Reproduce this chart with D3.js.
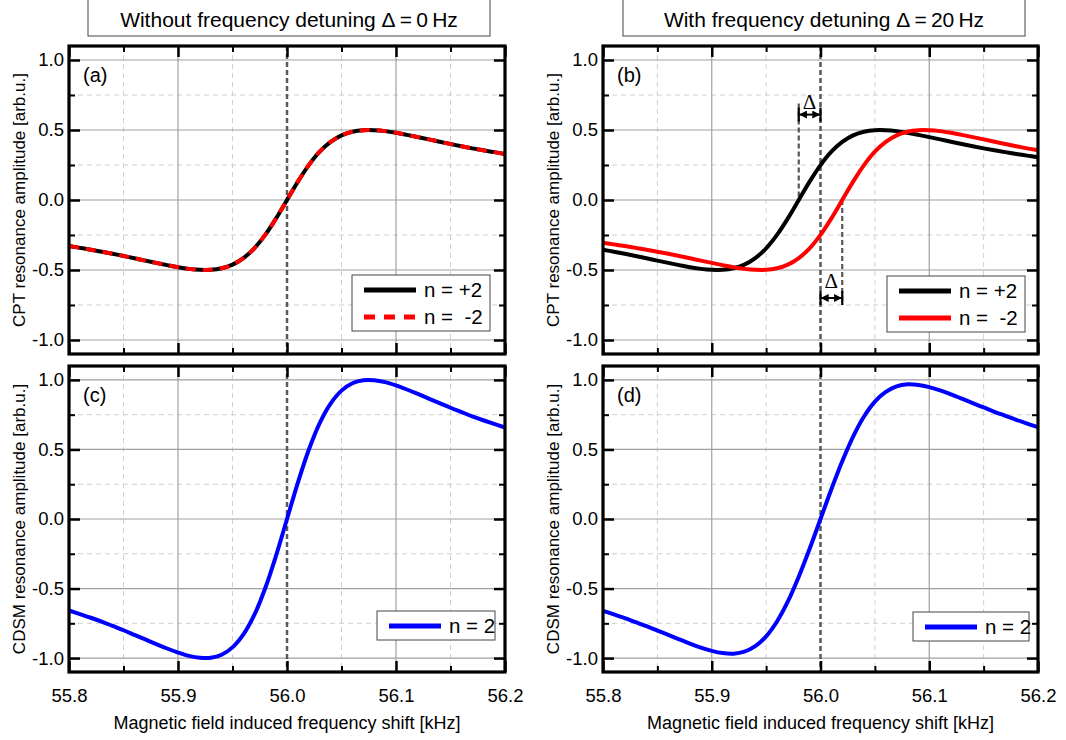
<!DOCTYPE html>
<html>
<head>
<meta charset="utf-8">
<script src="https://cdn.jsdelivr.net/npm/d3@7"></script>
<style>
  body { margin: 0; background: #fff; }
  text { font-family: "Liberation Sans", Arial, sans-serif; fill: #000; }
</style>
</head>
<body>
<script>
// frequency axis [kHz], shared by all panels
var freq = [55.80, 55.81, 55.82, 55.83, 55.84, 55.85, 55.86, 55.87, 55.88, 55.89,
            55.90, 55.91, 55.92, 55.93, 55.94, 55.95, 55.96, 55.97, 55.98, 55.99,
            56.00, 56.01, 56.02, 56.03, 56.04, 56.05, 56.06, 56.07, 56.08, 56.09,
            56.10, 56.11, 56.12, 56.13, 56.14, 56.15, 56.16, 56.17, 56.18, 56.19, 56.20]

// (a) n = +2 and n = -2 overlap
var cptNoDetune = [-0.329, -0.342, -0.355, -0.369, -0.384, -0.400, -0.416, -0.433, -0.449, -0.465,
                   -0.480, -0.492, -0.499, -0.499, -0.488, -0.462, -0.415, -0.345, -0.249, -0.131,
                   0.000, 0.131, 0.249, 0.345, 0.415, 0.462, 0.488, 0.499, 0.499, 0.492,
                   0.480, 0.465, 0.449, 0.433, 0.416, 0.400, 0.384, 0.369, 0.355, 0.342, 0.329]

// (b) n = +2
var cptPlus = [-0.355, -0.369, -0.384, -0.400, -0.416, -0.433, -0.449, -0.465, -0.480, -0.492,
               -0.499, -0.499, -0.488, -0.462, -0.415, -0.345, -0.249, -0.131, 0.000, 0.131,
               0.249, 0.345, 0.415, 0.462, 0.488, 0.499, 0.499, 0.492, 0.480, 0.465,
               0.449, 0.433, 0.416, 0.400, 0.384, 0.369, 0.355, 0.342, 0.329, 0.317, 0.305]

// (b) n = -2
var cptMinus = [-0.305, -0.317, -0.329, -0.342, -0.355, -0.369, -0.384, -0.400, -0.416, -0.433,
                -0.449, -0.465, -0.480, -0.492, -0.499, -0.499, -0.488, -0.462, -0.415, -0.345,
                -0.249, -0.131, 0.000, 0.131, 0.249, 0.345, 0.415, 0.462, 0.488, 0.499,
                0.499, 0.492, 0.480, 0.465, 0.449, 0.433, 0.416, 0.400, 0.384, 0.369, 0.355]

// (c) CDSM, no detuning
var cdsmNoDetune = [-0.658, -0.684, -0.710, -0.738, -0.769, -0.800, -0.833, -0.866, -0.899, -0.931,
                    -0.960, -0.984, -0.998, -0.998, -0.976, -0.923, -0.830, -0.690, -0.498, -0.262,
                    0.000, 0.262, 0.498, 0.690, 0.830, 0.923, 0.976, 0.998, 0.998, 0.984,
                    0.960, 0.931, 0.899, 0.866, 0.833, 0.800, 0.769, 0.738, 0.710, 0.684, 0.658]

// (d) CDSM, 20 Hz detuning
var cdsmDetune = [-0.660, -0.686, -0.713, -0.742, -0.771, -0.802, -0.833, -0.865, -0.896, -0.925,
                  -0.948, -0.964, -0.968, -0.954, -0.914, -0.844, -0.737, -0.593, -0.415, -0.214,
                  0.000, 0.214, 0.415, 0.593, 0.737, 0.844, 0.914, 0.954, 0.968, 0.964,
                  0.948, 0.925, 0.896, 0.865, 0.833, 0.802, 0.771, 0.742, 0.713, 0.686, 0.660]

var xMajor = [55.8, 55.9, 56.0, 56.1, 56.2]
var xMinor = [55.85, 55.95, 56.05, 56.15]
var yMajor = [-1.0, -0.5, 0.0, 0.5, 1.0]
var yMinor = [-0.75, -0.25, 0.25, 0.75]

var detuning = 0.02   // 20 Hz in kHz

var width = 1066
var height = 740

var svg = d3.select("body")
            .append("svg")
            .attr("width", width)
            .attr("height", height)

// arrow heads for the detuning annotation
var defs = svg.append("defs")
defs.append("marker")
    .attr("id", "arr")
    .attr("viewBox", "0 0 10 10")
    .attr("refX", 9)
    .attr("refY", 5)
    .attr("markerWidth", 8)
    .attr("markerHeight", 8)
    .attr("markerUnits", "userSpaceOnUse")
    .attr("orient", "auto-start-reverse")
    .append("path")
    .attr("d", "M0,0 L10,5 L0,10 z")
    .attr("fill", "#000")

const drawPanel = function(p){
  var x = d3.scaleLinear().domain([55.8, 56.2]).range([p.x0, p.x1])
  var y = d3.scaleLinear().domain([-1.1, 1.1]).range([p.y1, p.y0])
  var w = p.x1 - p.x0
  var h = p.y1 - p.y0
  var g = svg.append("g")

  // minor grid (dashed)
  g.selectAll(".vminor").data(xMinor).enter().append("line")
   .attr("x1", d => x(d)).attr("x2", d => x(d))
   .attr("y1", p.y0).attr("y2", p.y1)
   .attr("stroke", "#cfcfcf").attr("stroke-width", 1).attr("stroke-dasharray", "5,4")
  g.selectAll(".hminor").data(yMinor).enter().append("line")
   .attr("x1", p.x0).attr("x2", p.x1)
   .attr("y1", d => y(d)).attr("y2", d => y(d))
   .attr("stroke", "#cfcfcf").attr("stroke-width", 1).attr("stroke-dasharray", "5,4")

  // major grid (solid)
  g.selectAll(".vmajor").data([55.9, 56.1]).enter().append("line")
   .attr("x1", d => x(d)).attr("x2", d => x(d))
   .attr("y1", p.y0).attr("y2", p.y1)
   .attr("stroke", "#a0a0a0").attr("stroke-width", 1.2)
  g.selectAll(".hmajor").data(yMajor).enter().append("line")
   .attr("x1", p.x0).attr("x2", p.x1)
   .attr("y1", d => y(d)).attr("y2", d => y(d))
   .attr("stroke", "#a0a0a0").attr("stroke-width", 1.2)

  // resonance centre
  g.append("line")
   .attr("x1", x(56.0)).attr("x2", x(56.0))
   .attr("y1", p.y0).attr("y2", p.y1)
   .attr("stroke", "#5a5a5a").attr("stroke-width", 2.5).attr("stroke-dasharray", "5,3")

  if (p.annotate) drawDelta(g, x, y)

  var line = d3.line()
               .x((d, i) => x(freq[i]))
               .y(d => y(d))
               .curve(d3.curveCatmullRom)

  for (let s of p.series){
    g.append("path")
     .attr("d", line(s.values))
     .attr("fill", "none")
     .attr("stroke", s.colour)
     .attr("stroke-width", 4)
     .attr("stroke-dasharray", s.dash || null)
  }

  // frame
  g.append("rect")
   .attr("x", p.x0).attr("y", p.y0)
   .attr("width", w).attr("height", h)
   .attr("fill", "none").attr("stroke", "#000").attr("stroke-width", 3.2)

  // inward ticks on all four sides
  var tickStyle = function(sel, sw){
    sel.select(".domain").remove()
    sel.selectAll(".tick line").attr("stroke", "#000").attr("stroke-width", sw)
    sel.selectAll("text").style("font-size", "18.5px").attr("fill", "#000")
  }
  g.append("g").attr("transform", "translate(0," + p.y1 + ")")
   .call(d3.axisBottom(x).tickValues(xMajor).tickSize(-11).tickPadding(17)
           .tickFormat(p.xLabels ? (d => d.toFixed(1)) : ""))
   .call(tickStyle, 2.5)
  g.append("g").attr("transform", "translate(0," + p.y1 + ")")
   .call(d3.axisBottom(x).tickValues(xMinor).tickSize(-6).tickFormat(""))
   .call(tickStyle, 2)
  g.append("g").attr("transform", "translate(0," + p.y0 + ")")
   .call(d3.axisTop(x).tickValues(xMajor).tickSize(-11).tickFormat(""))
   .call(tickStyle, 2.5)
  g.append("g").attr("transform", "translate(0," + p.y0 + ")")
   .call(d3.axisTop(x).tickValues(xMinor).tickSize(-6).tickFormat(""))
   .call(tickStyle, 2)
  g.append("g").attr("transform", "translate(" + p.x0 + ",0)")
   .call(d3.axisLeft(y).tickValues(yMajor).tickSize(-11).tickPadding(5)
           .tickFormat(d => d.toFixed(1)))
   .call(tickStyle, 2.5)
  g.append("g").attr("transform", "translate(" + p.x0 + ",0)")
   .call(d3.axisLeft(y).tickValues(yMinor).tickSize(-6).tickFormat(""))
   .call(tickStyle, 2)
  g.append("g").attr("transform", "translate(" + p.x1 + ",0)")
   .call(d3.axisRight(y).tickValues(yMajor).tickSize(-11).tickFormat(""))
   .call(tickStyle, 2.5)
  g.append("g").attr("transform", "translate(" + p.x1 + ",0)")
   .call(d3.axisRight(y).tickValues(yMinor).tickSize(-6).tickFormat(""))
   .call(tickStyle, 2)

  // panel letter
  g.append("text")
   .attr("x", p.x0 + 14).attr("y", p.y0 + 36)
   .style("font-size", "20px")
   .text(p.letter)

  // y label
  g.append("text")
   .attr("transform", "translate(" + (p.x0 - 44) + "," + (p.y0 + h / 2) + ") rotate(-90)")
   .style("text-anchor", "middle")
   .style("font-size", "17px")
   .text(p.yLabel)

  if (p.xLabels){
    g.append("text")
     .attr("x", p.x0 + w / 2).attr("y", p.y1 + 57)
     .style("text-anchor", "middle")
     .style("font-size", "18px")
     .text("Magnetic field induced frequency shift [kHz]")
  }

  drawLegend(g, p)
}

const drawLegend = function(g, p){
  var lg = p.legend
  var rowH = 27
  var boxH = p.series.length * rowH + 2
  var box = g.append("g").attr("transform", "translate(" + lg.x + "," + lg.y + ")")
  box.append("rect")
     .attr("width", lg.w).attr("height", boxH)
     .attr("fill", "#fff").attr("stroke", "#444").attr("stroke-width", 1)
  p.series.forEach(function(s, i){
    var yy = 15 + i * rowH
    box.append("line")
       .attr("x1", 12).attr("x2", 64).attr("y1", yy).attr("y2", yy)
       .attr("stroke", s.colour).attr("stroke-width", 5)
       .attr("stroke-dasharray", s.legendDash || null)
    box.append("text")
       .attr("x", 72).attr("y", yy + 7)
       .attr("xml:space", "preserve")
       .style("white-space", "pre")
       .style("font-size", "20.5px")
       .text(s.name)
  })
}

// detuning arrows in panel (b)
const drawDelta = function(g, x, y){
  var gray = "#555"
  g.append("line")
   .attr("x1", x(56.0 - detuning)).attr("x2", x(56.0 - detuning))
   .attr("y1", y(0.69)).attr("y2", y(0.0))
   .attr("stroke", gray).attr("stroke-width", 2.2).attr("stroke-dasharray", "5,3")
  g.append("line")
   .attr("x1", x(56.0 + detuning)).attr("x2", x(56.0 + detuning))
   .attr("y1", y(0.0)).attr("y2", y(-0.75))
   .attr("stroke", gray).attr("stroke-width", 2.2).attr("stroke-dasharray", "5,3")

  var arrows = [{a: 56.0 - detuning, b: 56.0, v: 0.61, t: 0.70},
                {a: 56.0, b: 56.0 + detuning, v: -0.70, t: -0.58}]
  for (let ar of arrows){
    g.append("line")
     .attr("x1", x(ar.a) + 1).attr("x2", x(ar.b) - 1)
     .attr("y1", y(ar.v)).attr("y2", y(ar.v))
     .attr("stroke", "#000").attr("stroke-width", 2)
     .attr("marker-start", "url(#arr)").attr("marker-end", "url(#arr)")
    for (let xe of [ar.a, ar.b]){
      g.append("line")
       .attr("x1", x(xe)).attr("x2", x(xe))
       .attr("y1", y(ar.v) - 7).attr("y2", y(ar.v) + 7)
       .attr("stroke", "#000").attr("stroke-width", 2.2)
    }
    g.append("text")
     .attr("x", (x(ar.a) + x(ar.b)) / 2).attr("y", y(ar.t) + 7)
     .style("text-anchor", "middle")
     .style("font-family", "'Liberation Serif', 'Times New Roman', serif")
     .style("font-size", "21px")
     .text("Δ")
  }
}

var colLeft = {x0: 69, x1: 505}
var colRight = {x0: 603, x1: 1038}
var rowTop = {y0: 46, y1: 354}
var rowBottom = {y0: 366, y1: 672}

var panels = [
  {x0: colLeft.x0, x1: colLeft.x1, y0: rowTop.y0, y1: rowTop.y1, letter: "(a)",
   yLabel: "CPT resonance amplitude [arb.u.]", xLabels: false,
   legend: {x: 352, y: 275, w: 138},
   series: [{name: "n = +2", values: cptNoDetune, colour: "#000"},
            {name: "n =  -2", values: cptNoDetune, colour: "#ff0000", dash: "10,7", legendDash: "11,9"}]},
  {x0: colRight.x0, x1: colRight.x1, y0: rowTop.y0, y1: rowTop.y1, letter: "(b)", annotate: true,
   yLabel: "CPT resonance amplitude [arb.u.]", xLabels: false,
   legend: {x: 887, y: 276, w: 138},
   series: [{name: "n = +2", values: cptPlus, colour: "#000"},
            {name: "n =  -2", values: cptMinus, colour: "#ff0000"}]},
  {x0: colLeft.x0, x1: colLeft.x1, y0: rowBottom.y0, y1: rowBottom.y1, letter: "(c)",
   yLabel: "CDSM resonance amplitude [arb.u.]", xLabels: true,
   legend: {x: 377, y: 611, w: 118},
   series: [{name: "n = 2", values: cdsmNoDetune, colour: "#0000ff"}]},
  {x0: colRight.x0, x1: colRight.x1, y0: rowBottom.y0, y1: rowBottom.y1, letter: "(d)",
   yLabel: "CDSM resonance amplitude [arb.u.]", xLabels: true,
   legend: {x: 913, y: 612, w: 116},
   series: [{name: "n = 2", values: cdsmDetune, colour: "#0000ff"}]}
]

for (let p of panels){
  drawPanel(p)
}

// column headers
var headers = [{text: "Without frequency detuning Δ\u2009=\u20090\u2009Hz", x0: 88, x1: 490},
               {text: "With frequency detuning Δ\u2009=\u200920\u2009Hz", x0: 623, x1: 1025}]
for (let hd of headers){
  svg.append("rect")
     .attr("x", hd.x0).attr("y", -2)
     .attr("width", hd.x1 - hd.x0).attr("height", 38)
     .attr("fill", "#fff").attr("stroke", "#444").attr("stroke-width", 1)
  svg.append("text")
     .attr("x", (hd.x0 + hd.x1) / 2).attr("y", 27)
     .style("text-anchor", "middle")
     .style("font-size", "21px")
     .text(hd.text)
}
</script>
</body>
</html>
